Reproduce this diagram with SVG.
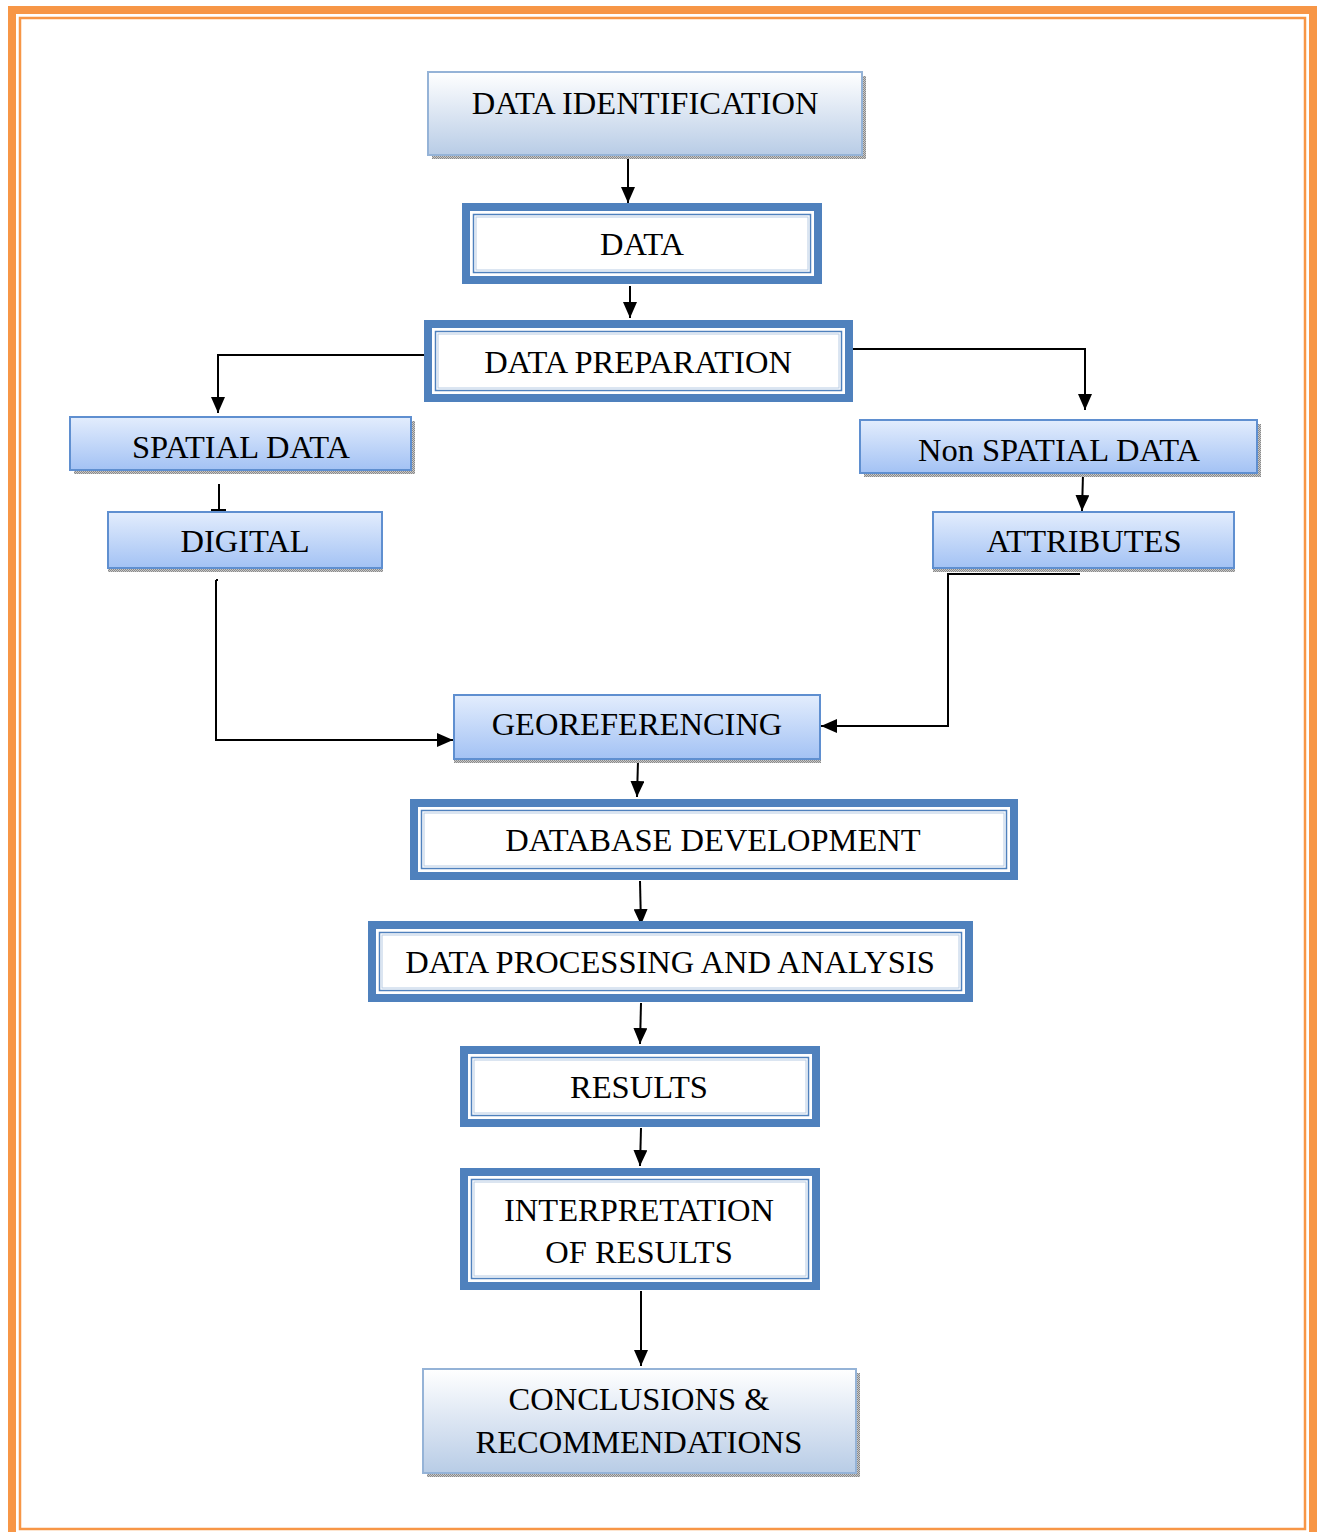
<svg xmlns="http://www.w3.org/2000/svg" width="1318" height="1532" viewBox="0 0 1318 1532">
<defs>
<linearGradient id="gA" x1="0" y1="0" x2="0" y2="1">
<stop offset="0" stop-color="#ffffff"/>
<stop offset="1" stop-color="#b8cce6"/>
</linearGradient>
<linearGradient id="gB" x1="0" y1="0" x2="0" y2="1">
<stop offset="0" stop-color="#e3edfd"/>
<stop offset="1" stop-color="#a3c2f4"/>
</linearGradient>
<pattern id="shd" width="2" height="2" patternUnits="userSpaceOnUse">
<rect width="2" height="2" fill="#c8c8c8"/>
<rect width="1" height="1" fill="#8a8a8a"/>
<rect x="1" y="1" width="1" height="1" fill="#8a8a8a"/>
</pattern>
<marker id="arr" viewBox="0 0 16 14" refX="16" refY="7" markerWidth="16" markerHeight="14" markerUnits="userSpaceOnUse" orient="auto">
<path d="M0,0 L16,7 L0,14 Z" fill="#000"/>
</marker>
</defs>
<style>
text{font-family:'Liberation Serif','Times New Roman',Times,serif;font-size:32.5px;fill:#000;text-anchor:middle}
.shadow{fill:url(#shd)}
.ba{fill:url(#gA);stroke:#95b3d7;stroke-width:2}
.bb{fill:url(#gB);stroke:#5f8fd0;stroke-width:2}
.dout{fill:#fff;stroke:#4f81bd;stroke-width:8}
.din{fill:none;stroke:#4f81bd;stroke-width:1.5}
.din2{fill:none;stroke:#b8cce4;stroke-width:1}
.c{fill:none;stroke:#000;stroke-width:2}
.ca{fill:none;stroke:#000;stroke-width:2;marker-end:url(#arr)}
</style>
<rect width="1318" height="1532" fill="#fff"/>
<g id="frame">
<rect x="12" y="10" width="1301" height="1530" fill="none" stroke="#f79646" stroke-width="8"/>
<rect x="20" y="18" width="1285" height="1511" fill="none" stroke="#f79646" stroke-width="2.5"/>
</g>
<g id="connectors">
<path class="ca" d="M628,157 V203"/>
<path class="ca" d="M630,286 V318"/>
<path class="ca" d="M425,355 H218 V413"/>
<path class="ca" d="M852,349 H1085 V410"/>
<path class="c" d="M219,484 V510 M211,510 H226"/>
<path class="ca" d="M1083,474 L1082,511"/>
<path class="c" d="M218,580 H216"/>
<path class="ca" d="M216,580 V740 H453"/>
<path class="ca" d="M1080,574 H948 V726 H821"/>
<path class="ca" d="M638,761 L637,797"/>
<path class="ca" d="M640,881 L641,925"/>
<path class="ca" d="M641,1003 L640,1044"/>
<path class="ca" d="M641,1128 L640,1166"/>
<path class="ca" d="M641,1291 V1366"/>
</g>
<g id="n-data-identification">
<rect class="shadow" x="432" y="76" width="434" height="83"/>
<rect class="ba" x="428" y="72" width="434" height="83"/>
<text x="645" y="114" font-family="Liberation Serif, serif">DATA IDENTIFICATION</text>
</g>
<g id="n-data">
<rect class="dout" x="466" y="207" width="352" height="73"/>
<rect class="din" x="473.5" y="214.5" width="337" height="58"/>
<rect class="din2" x="476" y="217" width="332" height="53"/>
<text x="642" y="255">DATA</text>
</g>
<g id="n-data-preparation">
<rect class="dout" x="428" y="324" width="421" height="74"/>
<rect class="din" x="435.5" y="331.5" width="406" height="59"/>
<rect class="din2" x="438" y="334" width="401" height="54"/>
<text x="638" y="373">DATA PREPARATION</text>
</g>
<g id="n-spatial-data">
<rect class="shadow" x="74" y="421" width="341" height="53"/>
<rect class="bb" x="70" y="417" width="341" height="53"/>
<text x="241" y="458">SPATIAL DATA</text>
</g>
<g id="n-non-spatial-data">
<rect class="shadow" x="864" y="424" width="397" height="53"/>
<rect class="bb" x="860" y="420" width="397" height="53"/>
<text x="1059" y="461">Non SPATIAL DATA</text>
</g>
<g id="n-digital">
<rect class="shadow" x="108" y="516" width="275" height="56"/>
<rect class="bb" x="108" y="512" width="274" height="56"/>
<text x="245" y="552">DIGITAL</text>
</g>
<g id="n-attributes">
<rect class="shadow" x="933" y="516" width="302" height="56"/>
<rect class="bb" x="933" y="512" width="301" height="56"/>
<text x="1084" y="552">ATTRIBUTES</text>
</g>
<g id="n-georeferencing">
<rect class="shadow" x="454" y="699" width="367" height="64"/>
<rect class="bb" x="454" y="695" width="366" height="64"/>
<text x="637" y="735">GEOREFERENCING</text>
</g>
<g id="n-database-development">
<rect class="dout" x="414" y="803" width="600" height="73"/>
<rect class="din" x="421.5" y="810.5" width="585" height="58"/>
<rect class="din2" x="424" y="813" width="580" height="53"/>
<text x="713" y="851">DATABASE DEVELOPMENT</text>
</g>
<g id="n-data-processing">
<rect class="dout" x="372" y="925" width="597" height="73"/>
<rect class="din" x="379.5" y="932.5" width="582" height="58"/>
<rect class="din2" x="382" y="935" width="577" height="53"/>
<text x="670" y="973">DATA PROCESSING AND ANALYSIS</text>
</g>
<g id="n-results">
<rect class="dout" x="464" y="1050" width="352" height="73"/>
<rect class="din" x="471.5" y="1057.5" width="337" height="58"/>
<rect class="din2" x="474" y="1060" width="332" height="53"/>
<text x="639" y="1098">RESULTS</text>
</g>
<g id="n-interpretation">
<rect class="dout" x="464" y="1172" width="352" height="114"/>
<rect class="din" x="471.5" y="1179.5" width="337" height="99"/>
<rect class="din2" x="474" y="1182" width="332" height="94"/>
<text x="639" y="1221">INTERPRETATION</text>
<text x="639" y="1263">OF RESULTS</text>
</g>
<g id="n-conclusions">
<rect class="shadow" x="427" y="1373" width="433" height="104"/>
<rect class="ba" x="423" y="1369" width="433" height="104"/>
<text x="639" y="1410">CONCLUSIONS &amp;</text>
<text x="639" y="1453">RECOMMENDATIONS</text>
</g>
</svg>
